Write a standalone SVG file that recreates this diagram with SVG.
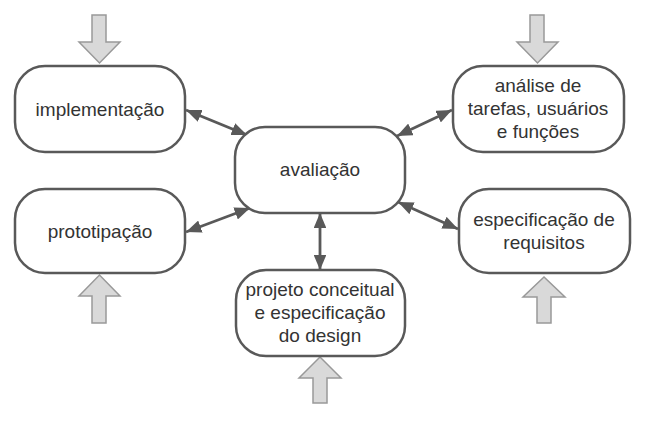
<svg xmlns="http://www.w3.org/2000/svg" width="649" height="421" viewBox="0 0 649 421">
<defs>
<marker id="ah" viewBox="0 0 10 10" refX="10" refY="5" markerWidth="5.5" markerHeight="4.6" orient="auto-start-reverse" markerUnits="strokeWidth" preserveAspectRatio="none">
<path d="M0,0 L10,5 L0,10 z" fill="#595959"/>
</marker>
<style>
.box{fill:#fff;stroke:#595959;stroke-width:2.5}
.t{font-family:"Liberation Sans",Arial,sans-serif;font-size:19px;fill:#333;text-anchor:middle}
.ga{fill:#d9d9d9;stroke:#999;stroke-width:1.5;stroke-linejoin:miter}
.c{stroke:#595959;stroke-width:2.8;fill:none;marker-start:url(#ah);marker-end:url(#ah)}
</style>
</defs>
<rect width="649" height="421" fill="#fff"/>
<g id="inputs">
<path class="ga" d="M92,15 H106 V42 H120 L99.5,63 L79,42 H92 Z"/>
<path class="ga" d="M530,15 H544 V42 H558 L537.5,63 L517,42 H530 Z"/>
<path class="ga" d="M92,323 H106 V296 H120 L99.5,275 L79,296 H92 Z"/>
<path class="ga" d="M537,323 H551 V297 H565 L544,277 L523,297 H537 Z"/>
<path class="ga" d="M313,403 H327 V378 H341 L320,357 L299,378 H313 Z"/>
</g>
<g id="connectors">
<line class="c" x1="186" y1="110" x2="247" y2="135"/>
<line class="c" x1="452" y1="110" x2="397" y2="136"/>
<line class="c" x1="186" y1="232" x2="250" y2="208"/>
<line class="c" x1="320" y1="213" x2="320" y2="270"/>
<line class="c" x1="398" y1="202" x2="458" y2="229"/>
</g>
<g id="implementacao">
<rect class="box" x="15" y="66" width="170" height="86" rx="30"/>
<text class="t" x="100" y="116">implementação</text>
</g>
<g id="analise">
<rect class="box" x="453" y="66" width="171" height="86" rx="30"/>
<text class="t" x="538" y="92">análise de</text>
<text class="t" x="538" y="115">tarefas, usuários</text>
<text class="t" x="538" y="138">e funções</text>
</g>
<g id="avaliacao">
<rect class="box" x="235" y="127" width="170" height="86" rx="30"/>
<text class="t" x="320" y="176">avaliação</text>
</g>
<g id="prototipacao">
<rect class="box" x="15" y="189" width="170" height="84" rx="30"/>
<text class="t" x="100" y="238">prototipação</text>
</g>
<g id="requisitos">
<rect class="box" x="459" y="189" width="171" height="84" rx="30"/>
<text class="t" x="544" y="226">especificação de</text>
<text class="t" x="544" y="249">requisitos</text>
</g>
<g id="projeto">
<rect class="box" x="236" y="270" width="169" height="86" rx="30"/>
<text class="t" x="320" y="296">projeto conceitual</text>
<text class="t" x="320" y="319">e especificação</text>
<text class="t" x="320" y="342">do design</text>
</g>
</svg>
